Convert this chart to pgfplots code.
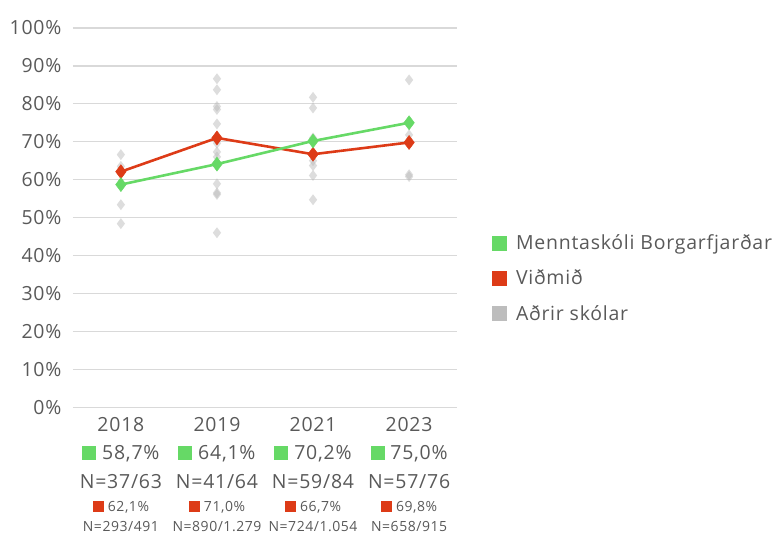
\documentclass[border=0pt]{standalone}
\usepackage{pgfplots}
\pgfplotsset{compat=1.18}
\usepackage{fontspec}
\setmainfont{Open Sans}[LetterSpace=4]
\definecolor{mgreen}{HTML}{66D966}
\definecolor{mred}{HTML}{DD3B17}
\definecolor{ptgray}{HTML}{BBBBBB}
\definecolor{leggray}{HTML}{BDBDBD}
\definecolor{gridc}{HTML}{D9D9D9}
\definecolor{textc}{HTML}{595959}
\newcommand{\gsq}{\textcolor{mgreen}{\rule{14pt}{14pt}}}
\newcommand{\rsq}{\textcolor{mred}{\rule[-0.5pt]{11pt}{11pt}}}
\newcommand{\bigf}{\fontsize{19.5}{21}\selectfont}
\newcommand{\smf}{\fontsize{14}{16}\selectfont}
\newcommand{\collab}[5]{%
  \node[text=textc,font=\bigf] at (axis cs:#1,0) [yshift=-47pt] {\gsq\ #2};
  \node[text=textc,font=\bigf] at (axis cs:#1,0) [yshift=-74pt] {#3};
  \node[text=textc,font=\smf] at (axis cs:#1,0) [yshift=-100pt] {\rsq\ #4};
  \node[text=textc,font=\smf] at (axis cs:#1,0) [yshift=-120pt] {#5};
}
\begin{document}
\begin{tikzpicture}
\begin{axis}[name=ax, scale only axis, width=385pt, height=380pt,
  xmin=-0.5, xmax=3.5, ymin=0, ymax=100,
  ytick={0,10,...,100}, yticklabel={\pgfmathprintnumber{\tick}\%},
  xtick={0,1,2,3}, xticklabels={2018,2019,2021,2023},
  axis line style={draw=none}, major tick length=0pt,
  ymajorgrids, grid style={draw=gridc, line width=1.3pt},
  tick label style={font=\bigf, text=textc},
  /pgf/number format/assume math mode=true,
  yticklabel style={anchor=east, xshift=-8pt},
  xticklabel style={anchor=center, yshift=-17pt},
  clip=false,
  legend style={at={(1.09,0.34)}, anchor=west, draw=none, fill=none,
    font=\bigf, text=textc, row sep=15pt, inner sep=0pt},
  legend cell align=left,
]
\addplot[ptgray, only marks, mark=diamond*, mark size=5.5pt, mark options={draw=ptgray, draw opacity=0, fill=ptgray, fill opacity=0.5}, forget plot] coordinates {
(0,66.6) (0,63.5) (0,53.4) (0,48.4)
(1,86.6) (1,83.7) (1,79.3) (1,78.5) (1,74.7) (1,69.6) (1,67.3) (1,66.0) (1,58.9) (1,56.5) (1,56.1) (1,46.0)
(2,81.7) (2,78.9) (2,71.0) (2,65.0) (2,63.7) (2,61.1) (2,54.7)
(3,86.3) (3,71.8) (3,61.3) (3,60.8)
};
\addplot[mred, line width=2.6pt, mark=diamond*, mark size=7pt, mark options={line width=0.5pt, draw=mred, fill=mred}, forget plot] coordinates {
(0,62.1) (1,71.0) (2,66.7) (3,69.8)
};
\addplot[mgreen, line width=2.6pt, mark=diamond*, mark size=7pt, mark options={line width=0.5pt, draw=mgreen, fill=mgreen}, forget plot] coordinates {
(0,58.7) (1,64.1) (2,70.2) (3,75.0)
};
\addlegendimage{legend image code/.code={\fill[mgreen] (0pt,-7pt) rectangle (14pt,7pt); \path[draw=none] (0pt,0pt) -- (22pt,0pt);}}
\addlegendentry{Menntaskóli Borgarfjarðar}
\addlegendimage{legend image code/.code={\fill[mred] (0pt,-7pt) rectangle (14pt,7pt); \path[draw=none] (0pt,0pt) -- (22pt,0pt);}}
\addlegendentry{Viðmið}
\addlegendimage{legend image code/.code={\fill[leggray] (0pt,-7pt) rectangle (14pt,7pt); \path[draw=none] (0pt,0pt) -- (22pt,0pt);}}
\addlegendentry{Aðrir skólar}
\collab{0}{58,7\%}{N=37/63}{62,1\%}{N=293/491}
\collab{1}{64,1\%}{N=41/64}{71,0\%}{N=890/1.279}
\collab{2}{70,2\%}{N=59/84}{66,7\%}{N=724/1.054}
\collab{3}{75,0\%}{N=57/76}{69,8\%}{N=658/915}
\end{axis}
\path ([xshift=-73pt,yshift=-128pt]ax.south west) rectangle ([xshift=316pt,yshift=28pt]ax.north east);
\end{tikzpicture}
\end{document}
